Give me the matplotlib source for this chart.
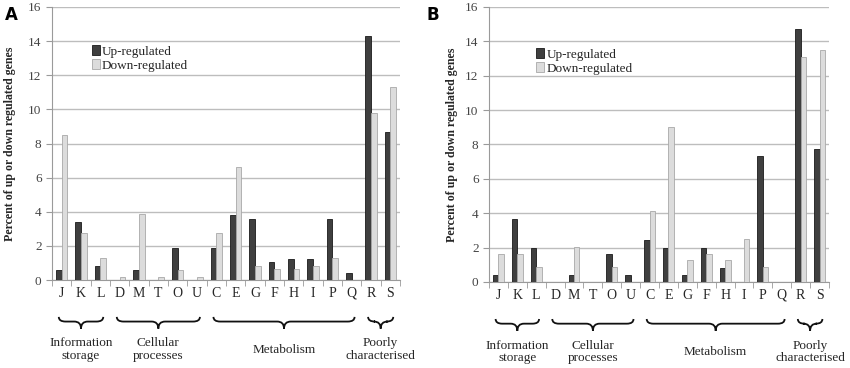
import numpy as np
import matplotlib.pyplot as plt
from matplotlib.path import Path
from matplotlib.patches import PathPatch
import matplotlib.transforms as mtransforms

cats = ['J', 'K', 'L', 'D', 'M', 'T', 'O', 'U', 'C', 'E', 'G', 'F', 'H', 'I', 'P', 'Q', 'R', 'S']

up_a = [0.6, 3.4, 0.8, 0.0, 0.6, 0.0, 1.9, 0.0, 1.9, 3.8, 3.6, 1.05, 1.25, 1.25, 3.6, 0.4, 14.3, 8.7]
down_a = [8.5, 2.75, 1.3, 0.2, 3.85, 0.2, 0.6, 0.2, 2.75, 6.6, 0.85, 0.65, 0.65, 0.85, 1.3, 0.0, 9.8, 11.3]

up_b = [0.4, 3.65, 2.0, 0.0, 0.4, 0.0, 1.6, 0.4, 2.45, 2.0, 0.4, 2.0, 0.8, 0.0, 7.35, 0.0, 14.7, 7.75]
down_b = [1.65, 1.65, 0.85, 0.0, 2.05, 0.0, 0.85, 0.0, 4.1, 9.0, 1.25, 1.65, 1.25, 2.5, 0.85, 0.0, 13.1, 13.5]

# groups: (label, first index, last index)
groups = [('Information\nstorage', 0, 2),
          ('Cellular\nprocesses', 3, 7),
          ('Metabolism', 8, 15),
          ('Poorly\ncharacterised', 16, 17)]

serif = 'Liberation Serif'
dark = '#3f3f3f'
light = '#dcdcdc'
grid_c = '#bdbdbd'
txt_c = '#262626'

fig = plt.figure(figsize=(8.5, 3.68), dpi=100)
ax_a = fig.add_axes([0.0612, 0.239, 0.4094, 0.742])
ax_b = fig.add_axes([0.5753, 0.234, 0.4000, 0.747])


def brace(ax, x0, x1, y_top=-0.135, y_mid=-0.152, y_tip=-0.178, r=0.35):
    xm = (x0 + x1) / 2
    verts = [(x0, y_top), (x0, y_mid), (x0 + r, y_mid),
             (xm - r, y_mid), (xm, y_mid), (xm, y_tip),
             (xm, y_mid), (xm + r, y_mid),
             (x1 - r, y_mid), (x1, y_mid), (x1, y_top)]
    codes = [Path.MOVETO, Path.CURVE3, Path.CURVE3,
             Path.LINETO, Path.CURVE3, Path.CURVE3,
             Path.CURVE3, Path.CURVE3,
             Path.LINETO, Path.CURVE3, Path.CURVE3]
    trans = mtransforms.blended_transform_factory(ax.transData, ax.transAxes)
    p = PathPatch(Path(verts, codes), facecolor='none', edgecolor='#111111',
                  lw=1.3, transform=trans, clip_on=False)
    ax.add_patch(p)


def panel(ax, up, down, leg_xy, pad):
    x = np.arange(len(cats))
    w = 0.29
    ax.bar(x - w / 2, up, w, color=dark, edgecolor='#1a1a1a', lw=0.6, zorder=3,
           label='Up-regulated')
    ax.bar(x + w / 2, down, w, color=light, edgecolor='#a8a8a8', lw=0.6, zorder=3,
           label='Down-regulated')
    ax.set_xlim(-0.5, len(cats) - 0.5)
    ax.set_ylim(0, 16)
    ax.set_yticks(range(0, 17, 2))
    ax.yaxis.grid(True, color=grid_c, lw=1.0, zorder=0)
    ax.set_xticks(x)
    ax.set_xticklabels(cats, fontfamily=serif, fontsize=10, color=txt_c)
    ax.set_xticks(np.arange(-0.5, len(cats), 1), minor=True)
    ax.tick_params(axis='x', which='major', length=0, pad=5)
    ax.tick_params(axis='x', which='minor', length=4, color='#9a9a9a')
    ax.tick_params(axis='y', length=4, color='#9a9a9a', labelsize=9.5, labelcolor='#444444')
    for lab in ax.get_yticklabels():
        lab.set_fontfamily(serif)
    for s in ['top', 'right']:
        ax.spines[s].set_visible(False)
    ax.spines['left'].set_color('#9a9a9a')
    ax.spines['bottom'].set_color('#9a9a9a')
    ax.set_ylabel('Percent of up or down regulated genes', fontfamily=serif,
                  fontweight='bold', fontsize=8.6, color=txt_c, labelpad=pad)
    ax.legend(loc='upper left', bbox_to_anchor=leg_xy, frameon=False,
              prop={'family': serif, 'size': 9.5}, handlelength=0.6, handleheight=0.8,
              handletextpad=0.15, labelspacing=0.1, borderpad=0, labelcolor=txt_c)
    tr = mtransforms.blended_transform_factory(ax.transData, ax.transAxes)
    for name, i0, i1 in groups:
        brace(ax, i0 - 0.15, i1 + 0.15)
        ax.text((i0 + i1) / 2, -0.255, name, ha='center', va='center',
                fontfamily=serif, fontsize=9.5, color=txt_c, linespacing=1.1,
                transform=tr)


panel(ax_a, up_a, down_a, (0.095, 0.885), 9)
panel(ax_b, up_b, down_b, (0.12, 0.875), 5)

fig.text(0.006, 0.985, 'A', fontsize=12, fontweight='bold', va='top')
fig.text(0.502, 0.985, 'B', fontsize=12, fontweight='bold', va='top')

fig.savefig('out.png', dpi=100)
